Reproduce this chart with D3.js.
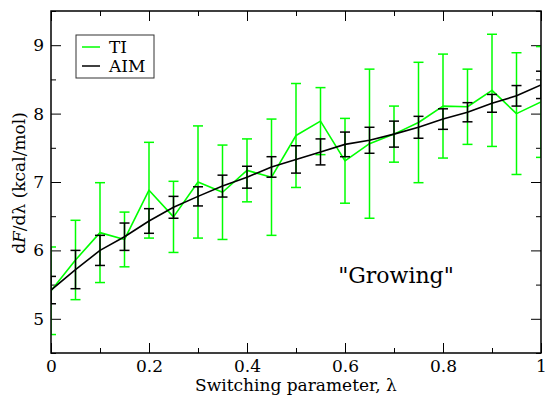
<!DOCTYPE html>
<html>
<head>
<meta charset="utf-8">
<script src="https://cdn.jsdelivr.net/npm/d3@7"></script>
<style>
  body { margin: 0; background: white; }
</style>
</head>
<body>
<svg id="chart" width="545" height="396"></svg>
<script>
var lambda  = [0, 0.05, 0.1, 0.15, 0.2, 0.25, 0.3, 0.35, 0.4, 0.45, 0.5, 0.55, 0.6, 0.65, 0.7, 0.75, 0.8, 0.85, 0.9, 0.95, 1];
var tiVals  = [5.41, 5.86, 6.26, 6.16, 6.88, 6.49, 7.0, 6.85, 7.17, 7.07, 7.68, 7.89, 7.31, 7.56, 7.70, 7.87, 8.11, 8.10, 8.34, 8.0, 8.17];
var tiErr   = [0.64, 0.58, 0.73, 0.40, 0.70, 0.52, 0.82, 0.69, 0.46, 0.85, 0.76, 0.49, 0.62, 1.09, 0.41, 0.88, 0.76, 0.55, 0.82, 0.89, 0.81];
var aimVals = [5.42, 5.72, 6.0, 6.2, 6.43, 6.63, 6.79, 6.94, 7.07, 7.22, 7.33, 7.44, 7.55, 7.61, 7.70, 7.80, 7.92, 8.02, 8.15, 8.26, 8.42];
var aimErr  = [0.2, 0.28, 0.22, 0.2, 0.18, 0.16, 0.14, 0.16, 0.16, 0.15, 0.2, 0.19, 0.18, 0.19, 0.19, 0.16, 0.15, 0.14, 0.13, 0.15, 0.2];
var xMajor = [0, 0.2, 0.4, 0.6, 0.8, 1];
var xMinor = [0.1, 0.3, 0.5, 0.7, 0.9];
var yMajor = [5, 6, 7, 8, 9];
var yMinor = [4.5, 5.5, 6.5, 7.5, 8.5, 9.5];

var font = "DejaVu Serif";

var svg = d3.select("#chart").style("font-family", font),
    margin = {top: 11, right: 4, bottom: 43, left: 51},
    width = +svg.attr("width") - margin.left - margin.right,
    height = +svg.attr("height") - margin.top - margin.bottom,
    g = svg.append("g").attr("transform", "translate(" + margin.left + "," + margin.top + ")");

var x = d3.scaleLinear().domain([0, 1]).range([0, width]);
var y = d3.scaleLinear().domain([4.5, 9.5]).range([height, 0]);

svg.append("defs").append("clipPath").attr("id", "clip")
  .append("rect").attr("width", width).attr("height", height);

function styleAxis(a) {
  a.attr("font-family", null).style("font-family", font);
  a.select(".domain").remove();
  a.selectAll(".tick line").attr("stroke", "#000").attr("stroke-width", 1);
  a.selectAll(".tick text").attr("font-size", 17).attr("fill", "#000").style("font-family", font);
}

// ticks, all pointing inward
g.append("g").attr("transform", "translate(0," + height + ")")
  .call(d3.axisBottom(x).tickValues(xMajor).tickSize(-10).tickPadding(7).tickFormat(d3.format("")))
  .call(styleAxis);
g.append("g").attr("transform", "translate(0," + height + ")")
  .call(d3.axisBottom(x).tickValues(xMinor).tickSize(-5).tickFormat(""))
  .call(styleAxis);
g.append("g").call(d3.axisTop(x).tickValues(xMajor).tickSize(-10).tickFormat("")).call(styleAxis);
g.append("g").call(d3.axisTop(x).tickValues(xMinor).tickSize(-5).tickFormat("")).call(styleAxis);

g.append("g").call(d3.axisLeft(y).tickValues(yMajor).tickSize(-10).tickPadding(7).tickFormat(d3.format("d"))).call(styleAxis);
g.append("g").call(d3.axisLeft(y).tickValues(yMinor).tickSize(-5).tickFormat("")).call(styleAxis);
g.append("g").attr("transform", "translate(" + width + ",0)")
  .call(d3.axisRight(y).tickValues(yMajor).tickSize(-10).tickFormat("")).call(styleAxis);
g.append("g").attr("transform", "translate(" + width + ",0)")
  .call(d3.axisRight(y).tickValues(yMinor).tickSize(-5).tickFormat("")).call(styleAxis);

function drawSeries(vals, errs, color) {
  var data = lambda.map(function(l, i) { return {x: l, v: vals[i], e: errs[i]}; });
  var p = g.append("g").attr("clip-path", "url(#clip)");
  var bars = p.selectAll(null).data(data).enter().append("g")
      .attr("stroke", color).attr("stroke-width", 1.5);
  bars.append("line")
      .attr("x1", function(d) { return x(d.x); }).attr("x2", function(d) { return x(d.x); })
      .attr("y1", function(d) { return y(d.v - d.e); }).attr("y2", function(d) { return y(d.v + d.e); });
  bars.append("line")
      .attr("x1", function(d) { return x(d.x) - 5; }).attr("x2", function(d) { return x(d.x) + 5; })
      .attr("y1", function(d) { return y(d.v + d.e); }).attr("y2", function(d) { return y(d.v + d.e); });
  bars.append("line")
      .attr("x1", function(d) { return x(d.x) - 5; }).attr("x2", function(d) { return x(d.x) + 5; })
      .attr("y1", function(d) { return y(d.v - d.e); }).attr("y2", function(d) { return y(d.v - d.e); });
  p.append("path")
      .datum(data)
      .attr("fill", "none")
      .attr("stroke", color)
      .attr("stroke-width", 1.6)
      .attr("stroke-linejoin", "round")
      .attr("d", d3.line().x(function(d) { return x(d.x); }).y(function(d) { return y(d.v); }));
}

drawSeries(tiVals, tiErr, "#00ff00");
drawSeries(aimVals, aimErr, "#000");

// frame
g.append("rect").attr("width", width).attr("height", height)
  .attr("fill", "none").attr("stroke", "#000").attr("stroke-width", 1.5);

// legend
var leg = g.append("g").attr("transform", "translate(25,24)");
leg.append("rect").attr("width", 78).attr("height", 43)
  .attr("fill", "white").attr("stroke", "#333").attr("stroke-width", 1);
[["TI", "#00ff00"], ["AIM", "#000"]].forEach(function(s, i) {
  leg.append("line").attr("x1", 6).attr("x2", 24).attr("y1", 12 + i * 19).attr("y2", 12 + i * 19)
    .attr("stroke", s[1]).attr("stroke-width", 1.5);
  leg.append("text").attr("x", 33).attr("y", 18 + i * 19).attr("font-size", 17).text(s[0]);
});

g.append("text").attr("x", x(0.586)).attr("y", y(5.53)).attr("font-size", 22).text("\"Growing\"");

svg.append("text")
  .attr("x", margin.left + width / 2).attr("y", 391)
  .attr("text-anchor", "middle").attr("font-size", 17)
  .text("Switching parameter, λ");

var yl = svg.append("text")
  .attr("transform", "translate(25," + (183) + ") rotate(-90)")
  .attr("text-anchor", "middle").attr("font-size", 17);
yl.append("tspan").text("d");
yl.append("tspan").attr("font-style", "italic").text("F");
yl.append("tspan").text("/dλ (kcal/mol)");
</script>
</body>
</html>
